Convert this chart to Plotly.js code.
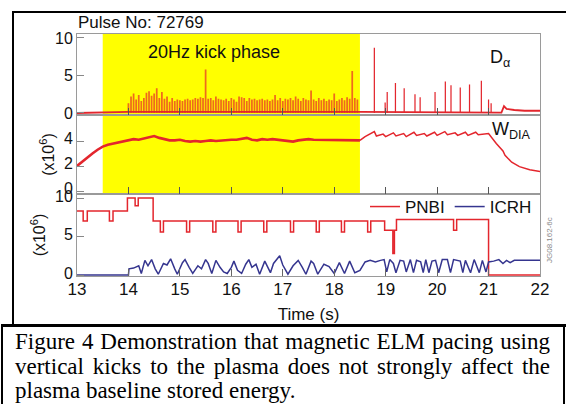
<!DOCTYPE html>
<html><head><meta charset="utf-8">
<script src="https://cdn.plot.ly/plotly-3.0.1.min.js"></script>
<style>
html,body{margin:0;padding:0;background:#fff;}
#wrap{position:relative;width:566px;height:404px;overflow:hidden;background:#fff;}
#chart{position:absolute;left:0;top:0;width:566px;height:404px;}
#caption{position:absolute;left:15px;top:330px;width:535px;font-family:"Liberation Serif","Times New Roman",serif;font-size:23px;line-height:24.5px;text-align:justify;color:#000;}
.b{position:absolute;background:#000;}
</style></head><body>
<div id="wrap">
<div id="chart"></div>
<div class="b" style="left:12px;top:11px;width:2px;height:315px"></div>
<div class="b" style="left:12px;top:11px;width:554px;height:2px"></div>
<div class="b" style="left:1px;top:324px;width:565px;height:3px"></div>
<div class="b" style="left:1px;top:324px;width:2px;height:80px"></div>
<div class="b" style="left:563px;top:324px;width:2px;height:80px"></div>
<div id="caption">Figure 4 Demonstration that magnetic ELM pacing using vertical kicks to the plasma does not strongly affect the plasma baseline stored energy.</div>
</div>
<script>
// ---- data ----
const kickStart = 13.5, kickEnd = 18.5;
const timeTicks = [13,14,15,16,17,18,19,20,21,22];

// D-alpha baseline
const daT = [13.0, 13.5, 14.0, 18.5, 21.25, 21.3, 21.35, 21.5, 21.7, 22.0];
const daV = [0.0, 0.05, 0.15, 0.15, 0.05, 0.9, 0.55, 0.4, 0.3, 0.3];

// D-alpha spikes during 20 Hz kick phase
const kickT = [14.00,14.05,14.10,14.15,14.20,14.25,14.30,14.35,14.40,14.45,
  14.50,14.55,14.60,14.65,14.70,14.75,14.80,14.85,14.90,14.95,
  15.00,15.05,15.10,15.15,15.20,15.25,15.30,15.35,15.40,15.45,
  15.50,15.55,15.60,15.65,15.70,15.75,15.80,15.85,15.90,15.95,
  16.00,16.05,16.10,16.15,16.20,16.25,16.30,16.35,16.40,16.45,
  16.50,16.55,16.60,16.65,16.70,16.75,16.80,16.85,16.90,16.95,
  17.00,17.05,17.10,17.15,17.20,17.25,17.30,17.35,17.40,17.45,
  17.50,17.55,17.60,17.65,17.70,17.75,17.80,17.85,17.90,17.95,
  18.00,18.05,18.10,18.15,18.20,18.25,18.30,18.35,18.40,18.45];
const kickH = [1.3,2.2,2.6,1.8,2.4,1.6,2.0,2.7,2.9,2.3,
  2.6,3.3,2.0,2.8,1.9,2.2,1.5,2.0,1.6,1.8,
  1.7,1.6,1.8,1.9,1.7,1.8,2.0,1.9,2.1,2.0,
  5.8,1.9,2.0,1.7,2.2,1.9,1.8,1.7,1.9,1.6,
  2.0,1.8,1.5,2.2,2.1,2.0,1.6,2.0,1.8,1.9,
  1.7,1.8,1.9,1.7,1.8,1.6,1.8,2.4,1.7,2.0,
  1.6,1.9,1.8,2.0,1.7,2.2,1.9,1.6,2.0,1.8,
  1.7,3.0,1.8,1.6,2.0,1.7,1.9,1.6,1.8,1.7,
  2.6,1.6,1.8,2.0,1.7,2.1,1.9,5.6,2.0,1.8];

// natural ELMs after the kick phase
const elmT = [18.78,18.99,19.03,19.19,19.36,19.57,19.67,19.96,20.16,20.27,20.45,20.63,20.86,21.00,21.05];
const elmH = [8.7,1.4,2.8,4.0,3.3,2.5,2.1,2.8,4.2,3.7,3.4,3.8,4.3,1.8,1.3];

// W_DIA (x10^6)
const wT = [13.0,13.1,13.2,13.3,13.4,13.5,13.6,13.7,13.8,13.9,
  14.0,14.1,14.2,14.3,14.4,14.5,14.6,14.7,14.8,14.9,
  15.0,15.1,15.2,15.3,15.4,15.5,15.6,15.7,15.8,15.9,
  16.0,16.1,16.2,16.3,16.4,16.5,16.6,16.7,16.8,16.9,
  17.0,17.1,17.2,17.3,17.4,17.5,17.6,17.7,17.8,17.9,
  18.0,18.1,18.2,18.3,18.4,18.5,18.6,18.78,18.82,18.95,
  19.0,19.15,19.2,19.35,19.4,19.55,19.6,19.75,19.8,19.95,
  20.0,20.15,20.2,20.35,20.4,20.55,20.6,20.75,20.8,21.0,
  21.05,21.15,21.28,21.32,21.45,21.6,21.8,22.0];
const wV = [2.0,2.35,2.7,3.0,3.3,3.55,3.7,3.8,3.9,4.0,
  4.05,4.15,4.1,4.2,4.35,4.4,4.25,4.15,4.05,4.05,
  4.1,4.0,3.95,4.0,3.95,4.0,4.05,4.0,4.05,4.05,
  4.1,4.1,4.15,4.25,4.1,4.05,4.15,4.1,4.15,4.1,
  4.1,4.0,3.95,4.05,4.1,4.15,4.1,4.1,4.05,4.1,
  4.1,4.05,4.1,4.1,4.05,4.05,4.35,4.75,4.4,4.55,
  4.35,4.65,4.4,4.6,4.35,4.7,4.45,4.6,4.4,4.7,
  4.45,4.75,4.5,4.65,4.45,4.7,4.45,4.7,4.5,4.6,
  4.3,3.8,3.2,2.85,2.3,1.95,1.7,1.55];

// PNBI (x10^6 W), step trace
const pnbiT = [13.0,13.12,13.2,13.63,13.7,13.98,14.13,14.19,14.48,
  14.62,14.68,15.13,15.19,15.64,15.7,16.13,16.19,16.63,16.69,
  17.15,17.21,17.65,17.71,18.14,18.2,18.65,18.71,
  18.98,19.14,19.17,19.21,20.32,20.38,21.0,22.0];
const pnbiV = [8.3,7.0,8.3,7.0,8.3,10.0,9.0,10.0,7.0,
  5.6,7.0,5.6,7.0,5.6,7.0,5.6,7.0,5.6,7.0,
  5.6,7.0,5.6,7.0,5.6,7.0,5.6,7.0,
  5.8,2.8,5.8,7.2,5.8,7.2,0.0,0.0];

// ICRH (x10^6 W)
const icrhT = [13.0,14.0,14.01,14.1,14.2,14.25,14.32,14.38,14.45,14.52,14.58,
  14.68,14.75,14.82,14.9,14.95,15.05,15.1,15.18,15.25,15.35,15.42,15.5,15.55,15.62,
  15.7,15.78,15.85,15.92,16.0,16.05,16.12,16.2,16.28,16.34,16.4,16.48,16.55,
  16.65,16.7,16.76,16.82,16.94,17.0,17.1,17.2,17.3,17.38,17.45,17.55,17.6,17.68,
  17.8,17.9,18.0,18.1,18.2,18.3,18.4,18.5,18.6,18.7,18.8,18.9,18.97,
  19.02,19.08,19.15,19.2,19.28,19.35,19.4,19.48,19.54,19.6,19.68,19.73,19.78,19.84,
  19.9,19.97,20.03,20.1,20.2,20.26,20.32,20.45,20.5,20.55,20.65,20.72,20.82,20.88,20.95,
  21.0,21.1,21.2,21.28,21.35,21.42,21.5,22.0];
const icrhV = [0.0,0.0,0.8,0.9,1.2,0.2,1.9,1.2,2.0,0.8,0.1,
  1.5,1.3,2.1,0.8,0.1,1.6,2.0,1.0,0.2,1.2,0.8,2.0,1.5,0.2,
  1.9,1.0,0.4,0.2,1.0,1.8,0.6,0.2,1.4,2.0,1.0,1.4,0.1,
  1.8,1.2,0.3,1.5,2.5,1.3,0.1,1.2,1.9,1.0,0.1,1.8,1.5,0.1,
  1.4,1.1,0.2,1.6,0.2,1.8,0.3,0.6,1.7,1.9,1.7,1.9,2.0,
  0.4,2.0,1.5,0.3,1.9,1.8,0.4,2.0,0.3,1.9,1.7,0.3,2.0,0.3,
  1.8,1.9,0.3,2.0,2.0,0.3,2.0,1.8,0.3,1.9,0.3,2.0,0.3,1.9,0.4,
  1.7,1.8,2.0,1.5,1.9,1.6,1.9,1.9];

// ---- chart ----
const W = 566, H = 404;
const px = v => v / W, py = v => 1 - v / H;
const RED = '#e3262d', ORANGE = '#ef6a1c', BLUE = '#35358f', FRAME = '#9a9a9a';
const FONT = 'Liberation Sans, Arial, Helvetica, sans-serif';

const wThickT = [], wThickV = [], wThinT = [], wThinV = [];
wT.forEach((t, i) => {
  if (t <= kickEnd) { wThickT.push(t); wThickV.push(wV[i]); }
  if (t >= kickEnd) { wThinT.push(t); wThinV.push(wV[i]); }
});

const traces = [
  {type:'scatter', mode:'lines', x:daT, y:daV, xaxis:'x3', yaxis:'y3', line:{color:RED, width:1.8}, showlegend:false, hoverinfo:'skip'},
  {type:'bar', x:kickT, y:kickH, xaxis:'x3', yaxis:'y3', width:0.034, marker:{color:ORANGE, opacity:1, line:{width:0}}, showlegend:false},
  {type:'bar', x:elmT, y:elmH, xaxis:'x3', yaxis:'y3', width:0.024, marker:{color:RED, opacity:1, line:{width:0}}, showlegend:false},
  {type:'scatter', mode:'lines', x:wThickT, y:wThickV, xaxis:'x2', yaxis:'y2', line:{color:RED, width:2.6}, showlegend:false},
  {type:'scatter', mode:'lines', x:wThinT, y:wThinV, xaxis:'x2', yaxis:'y2', line:{color:RED, width:1.5}, showlegend:false},
  {type:'scatter', mode:'lines', name:'PNBI', x:pnbiT, y:pnbiV, xaxis:'x', yaxis:'y', line:{color:RED, width:1.5, shape:'hv'}},
  {type:'scatter', mode:'lines', name:'ICRH', x:icrhT, y:icrhV, xaxis:'x', yaxis:'y', line:{color:BLUE, width:1.5}}
];

const xdom = [px(77), px(540)];
const xBase = {
  domain: xdom, range:[13,22], tickvals: timeTicks, ticks:'inside', ticklen:7, tickcolor:'#666',
  showline:true, mirror:true, linecolor:FRAME, linewidth:1, showgrid:false, zeroline:false,
  automargin:false, tickfont:{family:FONT, size:17, color:'#111'}
};
const yBase = {
  ticks:'inside', ticklen:7, tickcolor:'#888', showline:true, mirror:true, linecolor:FRAME, linewidth:1,
  showgrid:false, zeroline:false, automargin:false, tickfont:{family:FONT, size:16, color:'#111'}
};
const ytitle = {text:'(x10<sup>6</sup>)', font:{family:FONT, size:16, color:'#111'}, standoff:5};

const layout = {
  width:W, height:H, margin:{l:0, r:0, t:0, b:0}, autosize:false,
  paper_bgcolor:'#fff', plot_bgcolor:'rgba(0,0,0,0)', barmode:'overlay',
  font:{family:FONT, color:'#111'},
  xaxis: Object.assign({}, xBase, {anchor:'y', ticklabelstandoff:-2,
    title:{text:'Time (s)', font:{family:FONT, size:17, color:'#111'}, standoff:9}}),
  xaxis2: Object.assign({}, xBase, {anchor:'y2', matches:'x', showticklabels:false, tickcolor:'#555'}),
  xaxis3: Object.assign({}, xBase, {anchor:'y3', matches:'x', showticklabels:false, tickcolor:'#555'}),
  yaxis: Object.assign({}, yBase, {domain:[py(276), py(194)], range:[-0.13, 10.52], tickvals:[0,5,10], ticklabelshift:-2, title:ytitle, anchor:'x'}),
  yaxis2: Object.assign({}, yBase, {domain:[py(194), py(115)], range:[-0.24, 6.08], tickvals:[0,2,4], ticklabelshift:-3, title:ytitle, anchor:'x2'}),
  yaxis3: Object.assign({}, yBase, {domain:[py(115), py(34)], range:[-0.27, 10.53], tickvals:[0,5,10], anchor:'x3'}),
  showlegend:true,
  legend:{orientation:'h', x:px(537), xanchor:'right', y:py(207), yanchor:'middle',
    bgcolor:'rgba(0,0,0,0)', font:{family:FONT, size:17, color:'#111'}, itemwidth:30, tracegroupgap:0},
  shapes:[
    {type:'rect', xref:'x3', yref:'paper', x0:kickStart, x1:kickEnd, y0:py(194), y1:py(34),
     fillcolor:'#ffff00', line:{width:0}, layer:'below'}
  ],
  annotations:[
    {xref:'paper', yref:'paper', x:px(76), y:py(22), xanchor:'left', yanchor:'middle', showarrow:false,
     text:'Pulse No: 72769', font:{family:FONT, size:17, color:'#111'}},
    {xref:'paper', yref:'paper', x:px(146), y:py(52), xanchor:'left', yanchor:'middle', showarrow:false,
     text:'20Hz kick phase', font:{family:FONT, size:18, color:'#111'}},
    {xref:'paper', yref:'paper', x:px(488), y:py(58), xanchor:'left', yanchor:'middle', showarrow:false,
     text:'D<sub>α</sub>', font:{family:FONT, size:18, color:'#111'}},
    {xref:'paper', yref:'paper', x:px(490), y:py(130), xanchor:'left', yanchor:'middle', showarrow:false,
     text:'W<sub>DIA</sub>', font:{family:FONT, size:18, color:'#111'}},
    {xref:'paper', yref:'paper', x:px(549), y:py(240), xanchor:'center', yanchor:'middle', showarrow:false,
     text:'JG08.162-6c', textangle:-90, font:{family:FONT, size:8, color:'#888'}}
  ]
};

Plotly.newPlot('chart', traces, layout, {staticPlot:true, displayModeBar:false});
</script>
</body></html>
